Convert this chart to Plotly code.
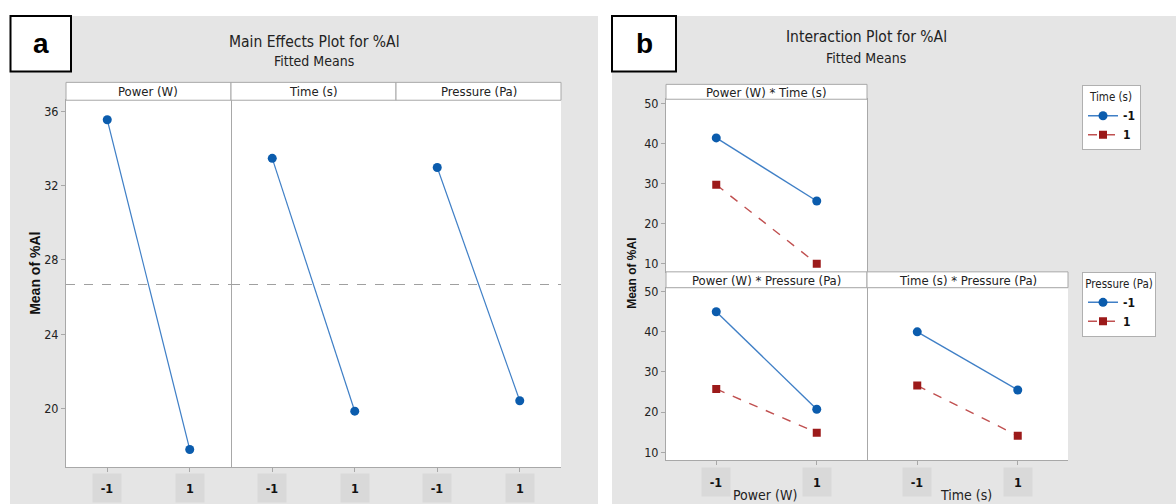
import plotly.graph_objects as go

W, H = 1176, 504

# ---------------- data ----------------
levels = [-1, 1]
level_labels = ["-1", "1"]

main_factors = ["Power (W)", "Time (s)", "Pressure (Pa)"]
main_power = [35.55, 17.80]
main_time = [33.47, 19.86]
main_pressure = [32.98, 20.42]

inter_titles = ["Power (W) * Time (s)", "Power (W) * Pressure (Pa)", "Time (s) * Pressure (Pa)"]
pt_time_m1 = [41.36, 25.63]
pt_time_p1 = [29.68, 10.00]
pp_press_m1 = [45.0, 20.7]
pp_press_p1 = [25.75, 14.86]
tp_press_m1 = [40.0, 25.5]
tp_press_p1 = [26.6, 14.1]

main_yticks = [20, 24, 28, 32, 36]
inter_yticks = [10, 20, 30, 40, 50]

# ---------------- style ----------------
NARROW = "Liberation Sans Narrow, DejaVu Sans Condensed, Arial Narrow, sans-serif"
BOLD = "Liberation Sans, Arial, sans-serif"
BG = "#e5e5e5"
FRAME = "#a8a8a8"
BLUE_M = "#0b5cad"
BLUE_L = "#3f7fc6"
RED_M = "#9c1a1a"
RED_L = "#c05050"


def px(x):
    return x / W


def py(y):
    return (H - y) / H


fig = go.Figure()
shapes = [
    # gray panel backgrounds
    dict(type="rect", xref="paper", yref="paper", x0=px(10), x1=px(598), y0=0, y1=py(12),
         fillcolor=BG, line=dict(width=0), layer="below"),
    dict(type="rect", xref="paper", yref="paper", x0=px(612), x1=1, y0=0, y1=py(12),
         fillcolor=BG, line=dict(width=0), layer="below"),
]
# white plot areas over the gray
for xn, yn in [("x", "y"), ("x2", "y"), ("x3", "y"), ("x4", "y4"), ("x5", "y5"), ("x6", "y5")]:
    shapes.append(dict(type="rect", xref=xn + " domain", yref=yn + " domain",
                       x0=0, x1=1, y0=0, y1=1, fillcolor="white",
                       line=dict(width=0), layer="below"))
shapes += [
    # label boxes
    dict(type="rect", xref="paper", yref="paper", x0=px(10.5), x1=px(71), y0=py(68), y1=py(12),
         fillcolor="white", line=dict(color="black", width=2)),
    dict(type="rect", xref="paper", yref="paper", x0=px(612), x1=px(676), y0=py(68), y1=py(12),
         fillcolor="white", line=dict(color="black", width=2)),
]

axis_common = dict(showline=True, linecolor=FRAME, linewidth=1, mirror=True,
                   showgrid=False, zeroline=False, ticks="outside",
                   tickcolor=FRAME, ticklen=4,
                   tickfont=dict(family=NARROW, size=12.5, color="#222"))

# left panel: three subplots sharing y
left_edges = [66, 231, 396, 561]
main_top, main_bot = 97, 467
main_series = [main_power, main_time, main_pressure]
overall_mean = sum(sum(s) for s in main_series) / (2 * len(main_series))

layout_axes = {}
for i in range(3):
    n = i + 1
    xname = "x" if n == 1 else f"x{n}"
    xa = "xaxis" if n == 1 else f"xaxis{n}"
    layout_axes[xa] = dict(axis_common, domain=[px(left_edges[i]), px(left_edges[i + 1])],
                           range=[-2, 2], tickvals=levels, showticklabels=False,
                           anchor="y")
    fig.add_trace(go.Scatter(x=levels, y=main_series[i], mode="lines+markers",
                             xaxis=xname, yaxis="y",
                             line=dict(color=BLUE_L, width=1.2),
                             marker=dict(symbol="circle", size=9, color=BLUE_M),
                             showlegend=False))
    shapes.append(dict(type="line", xref=xname + " domain", yref="y",
                       x0=0, x1=1, y0=overall_mean, y1=overall_mean,
                       line=dict(color="#a0a0a0", width=1, dash="dash")))
layout_axes["yaxis"] = dict(axis_common, domain=[py(main_bot), py(main_top)],
                            range=[16.84, 36.6], tickvals=main_yticks, anchor="x")

# right panel
r_left, r_mid, r_right = 666, 867, 1068
top_top, top_bot = 96, 270
bot_top, bot_bot = 286, 460
layout_axes["xaxis4"] = dict(axis_common, domain=[px(r_left), px(r_mid)], range=[-2, 2],
                             tickvals=levels, showticklabels=False, anchor="y4")
layout_axes["yaxis4"] = dict(axis_common, domain=[py(top_bot), py(top_top)], range=[7.95, 51],
                             tickvals=inter_yticks, anchor="x4")
layout_axes["xaxis5"] = dict(axis_common, domain=[px(r_left), px(r_mid)], range=[-2, 2],
                             tickvals=levels, showticklabels=False, anchor="y5")
layout_axes["yaxis5"] = dict(axis_common, domain=[py(bot_bot), py(bot_top)], range=[7.95, 51],
                             tickvals=inter_yticks, anchor="x5")
layout_axes["xaxis6"] = dict(axis_common, domain=[px(r_mid), px(r_right)], range=[-2, 2],
                             tickvals=levels, showticklabels=False, anchor="y5")


def inter_pair(xa, ya, s1, s2, leg, show):
    fig.add_trace(go.Scatter(x=levels, y=s1, mode="lines+markers", xaxis=xa, yaxis=ya,
                             name="<b>" + level_labels[0] + "</b>", legend=leg, showlegend=show,
                             line=dict(color=BLUE_L, width=1.4),
                             marker=dict(symbol="circle", size=9, color=BLUE_M)))
    fig.add_trace(go.Scatter(x=levels, y=s2, mode="lines+markers", xaxis=xa, yaxis=ya,
                             name="<b>" + level_labels[1] + "</b>", legend=leg, showlegend=show,
                             line=dict(color=RED_L, width=1.4, dash="dash"),
                             marker=dict(symbol="square", size=8, color=RED_M)))


inter_pair("x4", "y4", pt_time_m1, pt_time_p1, "legend", True)
inter_pair("x5", "y5", pp_press_m1, pp_press_p1, "legend2", True)
inter_pair("x6", "y5", tp_press_m1, tp_press_p1, "legend2", False)


def ann(text, x, y, size, family=NARROW, angle=0, color="#222", **kw):
    d = dict(text=text, x=px(x), y=py(y), xref="paper", yref="paper", showarrow=False,
             xanchor="center", yanchor="middle", textangle=angle,
             font=dict(family=family, size=size, color=color))
    d.update(kw)
    return d


annotations = [
    ann("<b>a</b>", 41, 40, 28, BOLD, color="black"),
    ann("<b>b</b>", 644, 40, 28, BOLD, color="black"),
    ann("Main Effects Plot for %Al", 314, 38, 15.5),
    ann("Fitted Means", 314, 57, 14),
    ann("Interaction Plot for %Al", 866, 33, 15.5),
    ann("Fitted Means", 866, 54, 14),
    ann("<b>Mean of %Al</b>", 35, 272, 14, BOLD, angle=-90, color="#111"),
    ann("<b>Mean of %Al</b>", 632, 272, 12, BOLD, angle=-90, color="#111"),
    ann("Power (W)", 765, 495, 14),
    ann("Time (s)", 966, 495, 14),
]

# strip headers
strips = [
    (left_edges[0], left_edges[1], 79, main_top, main_factors[0]),
    (left_edges[1], left_edges[2], 79, main_top, main_factors[1]),
    (left_edges[2], left_edges[3], 79, main_top, main_factors[2]),
    (r_left, r_mid, 81, top_top, inter_titles[0]),
    (r_left, r_mid, 270, bot_top, inter_titles[1]),
    (r_mid, r_right, 270, bot_top, inter_titles[2]),
]
for x0, x1, y0, y1, t in strips:
    shapes.append(dict(type="rect", xref="paper", yref="paper", x0=px(x0), x1=px(x1),
                       y0=py(y1), y1=py(y0), fillcolor="white",
                       line=dict(color=FRAME, width=1)))
    annotations.append(ann(t, (x0 + x1) / 2, (y0 + y1) / 2 + 0.5, 13))

# tick label boxes
tick_rows = [("x", 488), ("x2", 488), ("x3", 488), ("x5", 482), ("x6", 482)]
for xa, yc in tick_rows:
    for lv, lab in zip(levels, level_labels):
        annotations.append(dict(text="<b>" + lab + "</b>", x=lv, y=py(yc), xref=xa, yref="paper",
                                xanchor="center", yanchor="middle",
                                showarrow=False, bgcolor="#d9d9d9", width=26, height=26,
                                font=dict(family=NARROW, size=12.5, color="#111")))

fig.update_layout(
    width=W, height=H, margin=dict(l=0, r=0, t=0, b=0),
    paper_bgcolor="white", plot_bgcolor="white",
    shapes=shapes, annotations=annotations,
    legend=dict(x=px(1082), y=py(82), xanchor="left", yanchor="top",
                bgcolor="white", bordercolor="#b0b0b0", borderwidth=1,
                title=dict(text="Time (s)", side="top center",
                           font=dict(family=NARROW, size=11.5, color="#222")),
                font=dict(family=NARROW, size=12, color="#111"),
                tracegroupgap=0, itemwidth=30, entrywidth=60),
    legend2=dict(x=px(1082), y=py(270), xanchor="left", yanchor="top",
                 bgcolor="white", bordercolor="#b0b0b0", borderwidth=1,
                 title=dict(text="Pressure (Pa)", side="top center",
                            font=dict(family=NARROW, size=11.5, color="#222")),
                 font=dict(family=NARROW, size=12, color="#111"),
                 tracegroupgap=0, itemwidth=30, entrywidth=60),
    **layout_axes,
)

fig.write_html("out.html", config={"displayModeBar": False},
               post_script="document.body.style.margin='0';")
